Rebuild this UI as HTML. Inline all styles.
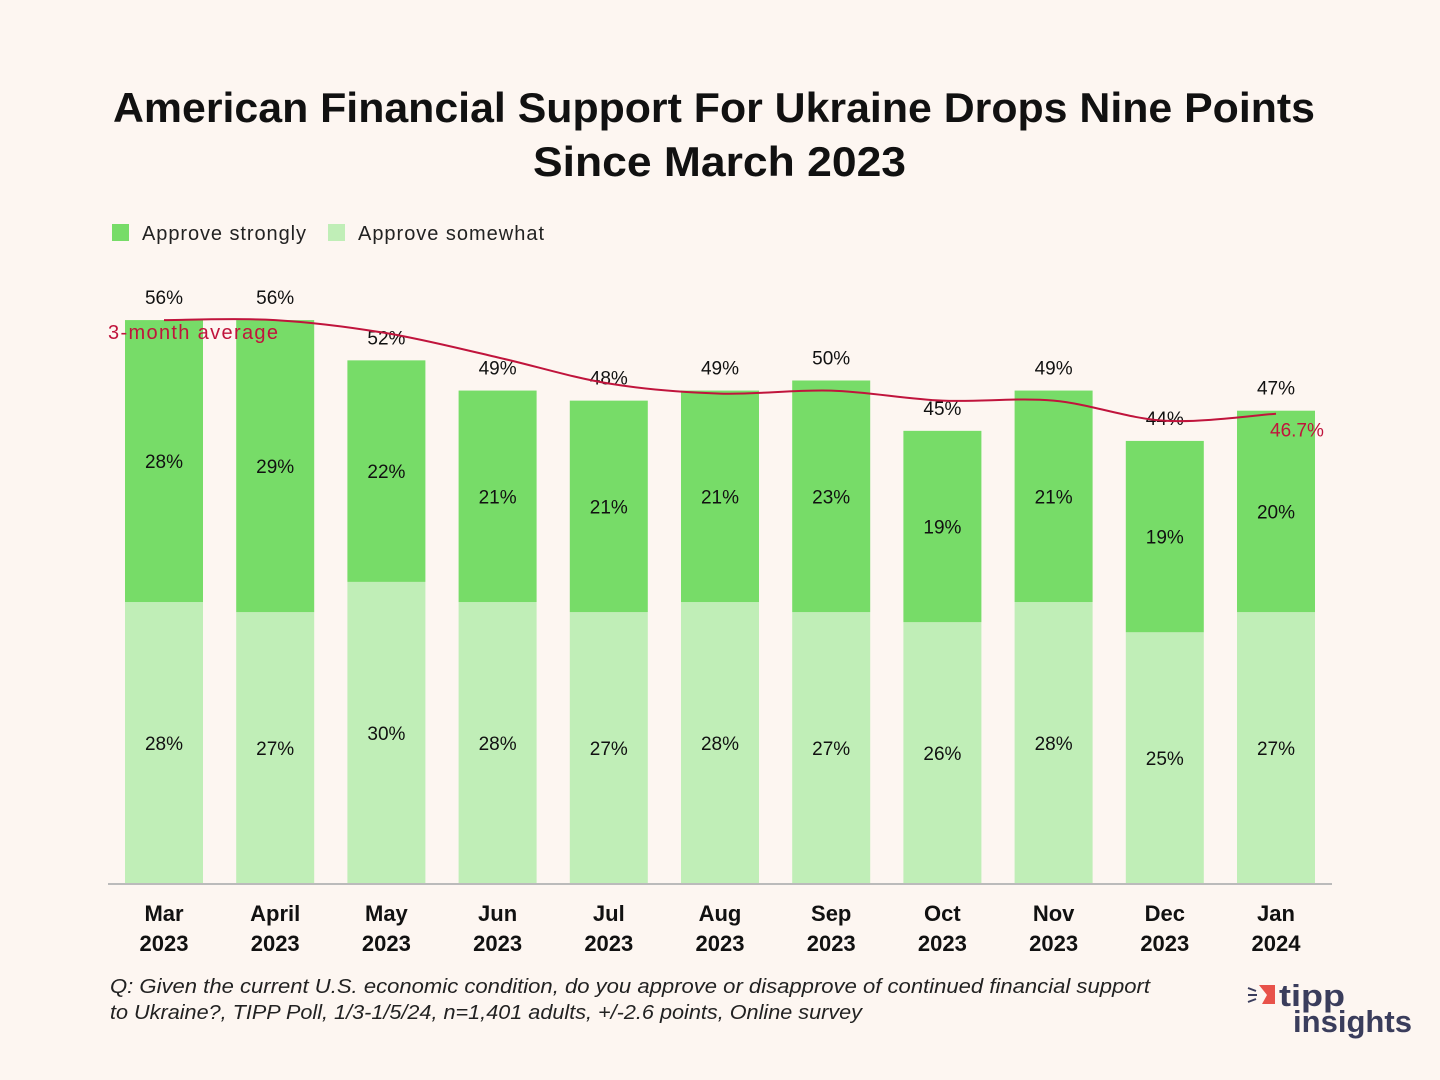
<!DOCTYPE html>
<html><head><meta charset="utf-8"><style>
html,body{margin:0;padding:0;background:#fdf6f1;}
svg{display:block;font-family:"Liberation Sans",sans-serif;}
</style></head><body>
<svg id="chart" width="1440" height="1080" viewBox="0 0 1440 1080">
<rect width="1440" height="1080" fill="#fdf6f1"/>
<text x="113" y="122" textLength="1202" lengthAdjust="spacingAndGlyphs" font-size="42" font-weight="bold" fill="#111">American Financial Support For Ukraine Drops Nine Points</text>
<text x="533" y="176" textLength="373" lengthAdjust="spacingAndGlyphs" font-size="42" font-weight="bold" fill="#111">Since March 2023</text>
<g>
<rect x="112" y="224" width="17" height="17" fill="#77dc68"/>
<text x="142" y="240" textLength="164" font-size="20" fill="#222">Approve strongly</text>
<rect x="328" y="224" width="17" height="17" fill="#c0eeb7"/>
<text x="358" y="240" textLength="186" font-size="20" fill="#222">Approve somewhat</text>
</g>
<g id="bars"></g>
<line x1="108" y1="884" x2="1332" y2="884" stroke="#bbb" stroke-width="2"/>
<g id="xlabels"></g>
<path id="avgline" fill="none" stroke="#c0143c" stroke-width="2"/>
<text x="108" y="339" textLength="170" font-size="20" fill="#c0143c">3-month average</text>
<g id="avglabel"></g>
<text x="110" y="993" textLength="1040" lengthAdjust="spacingAndGlyphs" font-size="20" font-style="italic" fill="#222">Q: Given the current U.S. economic condition, do you approve or disapprove of continued financial support</text>
<text x="110" y="1019" textLength="752" lengthAdjust="spacingAndGlyphs" font-size="20" font-style="italic" fill="#222">to Ukraine?, TIPP Poll, 1/3-1/5/24, n=1,401 adults, +/-2.6 points, Online survey</text>
<g>
<path d="M1259 985 L1275 985 L1275 1004 L1262 1004 L1267 995 Z" fill="#e8524a"/>
<line x1="1248" y1="988" x2="1256" y2="991" stroke="#3a3d5c" stroke-width="2"/>
<line x1="1248" y1="995" x2="1257" y2="995" stroke="#3a3d5c" stroke-width="2"/>
<line x1="1248" y1="1002" x2="1256" y2="999" stroke="#3a3d5c" stroke-width="2"/>
<text x="1279" y="1006" textLength="66" lengthAdjust="spacingAndGlyphs" font-size="31" font-weight="bold" fill="#3a3d5c">tipp</text>
<text x="1293" y="1032" textLength="119" lengthAdjust="spacingAndGlyphs" font-size="31" font-weight="bold" fill="#3a3d5c">insights</text>
</g>
</svg>
<script>
const months=["Mar","April","May","Jun","Jul","Aug","Sep","Oct","Nov","Dec","Jan"];
const years=["2023","2023","2023","2023","2023","2023","2023","2023","2023","2023","2024"];
const somewhat=[28,27,30,28,27,28,27,26,28,25,27];
const strongly=[28,29,22,21,21,21,23,19,21,19,20];
const totals=[56,56,52,49,48,49,50,45,49,44,47];
const avg3=[56,56,54.7,52.3,49.7,48.7,49,48,48,46,46.7];
const avgLastLabel="46.7%";

const NS="http://www.w3.org/2000/svg";
const baseY=884, pxPer=10.07, x0=164, step=111.2, bw=78;
const xS=i=>x0+i*step;
const yS=v=>baseY-v*pxPer;
function mk(tag,attrs,parent){const e=document.createElementNS(NS,tag);for(const k in attrs)e.setAttribute(k,attrs[k]);parent.appendChild(e);return e;}
const bars=document.getElementById('bars'), xl=document.getElementById('xlabels');
months.forEach((m,i)=>{
  const cx=xS(i);
  const s=somewhat[i], t=strongly[i];
  const r1=mk('rect',{x:cx-bw/2,y:yS(s),width:bw,height:s*pxPer,fill:'#c0eeb7'},bars);
  
  
  const r2=mk('rect',{x:cx-bw/2,y:yS(s+t),width:bw,height:t*pxPer,fill:'#77dc68'},bars);
  
  
  const l1=mk('text',{x:cx,y:(yS(s)+baseY)/2+7,'text-anchor':'middle','font-size':19,fill:'#111'},bars);
  l1.textContent=s+'%';
  
  
  const l2=mk('text',{x:cx,y:(yS(s)+yS(s+t))/2+7,'text-anchor':'middle','font-size':19,fill:'#111'},bars);
  l2.textContent=t+'%';
  
  
  const l3=mk('text',{x:cx,y:yS(totals[i])-16,'text-anchor':'middle','font-size':19,fill:'#111'},bars);
  l3.textContent=totals[i]+'%';
  
  
  const a=mk('text',{x:cx,y:921,'text-anchor':'middle','font-size':22,'font-weight':'bold',fill:'#111'},xl);
  a.textContent=m;
  
  
  const b=mk('text',{x:cx,y:951,'text-anchor':'middle','font-size':22,'font-weight':'bold',fill:'#111'},xl);
  b.textContent=years[i];
  
  
});
const pts=avg3.map((v,i)=>[xS(i),yS(v)]);
let d='M'+pts[0][0]+','+pts[0][1];
for(let i=0;i<pts.length-1;i++){
  const p0=pts[Math.max(0,i-1)],p1=pts[i],p2=pts[i+1],p3=pts[Math.min(pts.length-1,i+2)];
  const c1=[p1[0]+(p2[0]-p0[0])/6,p1[1]+(p2[1]-p0[1])/6];
  const c2=[p2[0]-(p3[0]-p1[0])/6,p2[1]-(p3[1]-p1[1])/6];
  d+=' C'+c1+' '+c2+' '+p2;
}
document.getElementById('avgline').setAttribute('d',d);
const last=pts[pts.length-1];
const al=mk('text',{x:last[0]-6,y:last[1]+23,'font-size':19,fill:'#c0143c'},document.getElementById('avglabel'));
al.textContent=avgLastLabel;


</script>
</body></html>
